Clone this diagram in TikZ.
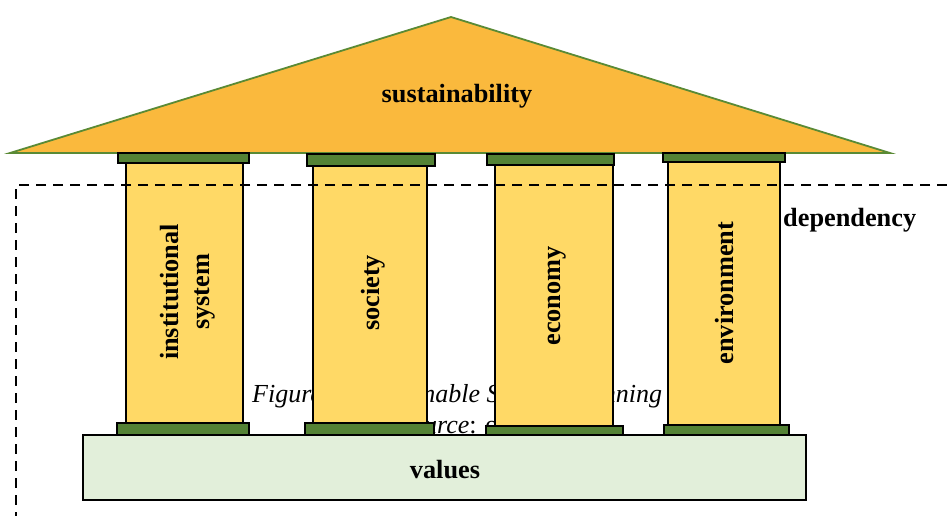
\documentclass[tikz,border=0pt]{standalone}
\usepackage{fontspec}
\setmainfont{Liberation Serif}
\definecolor{roofc}{HTML}{FAB93D}
\definecolor{roofline}{HTML}{5A8A35}
\definecolor{capc}{HTML}{548235}
\definecolor{shaftc}{HTML}{FFD966}
\definecolor{basec}{HTML}{E2EFDA}
\tikzset{
  roofstyle/.style={fill=roofc, draw=roofline, line width=1.8pt},
  shaftstyle/.style={fill=shaftc, draw=black, line width=2.4pt},
  capstyle/.style={fill=capc, draw=black, line width=2.4pt},
  basestyle/.style={fill=basec, draw=black, line width=2.4pt},
  lbl/.style={font=\fontsize{26.3}{31}\selectfont\bfseries, inner sep=0pt},
  vlbl/.style={lbl, rotate=90, align=center},
  captext/.style={font=\fontsize{26}{31}\selectfont, inner sep=0pt},
  depline/.style={draw=black, line width=2.4pt, dash pattern=on 10pt off 7pt}
}
\begin{document}
\begin{tikzpicture}[x=1pt,y=-1pt]
\useasboundingbox (0,0) rectangle (947,516);
% roof
\coordinate (apex) at (451,17);
\coordinate (rl) at (10,153);
\coordinate (rr) at (890,153);
\draw[roofstyle] (rl) -- (apex) -- (rr) -- cycle;
\node[lbl] (sus) at (457,96) {sustainability};
% hidden caption
\node[captext, anchor=base west] (fig) at (252,402) {\itshape Figure 1: Sustainable Spatial Planning};
\node[captext, anchor=base west] (src) at (398,433) {\textit{Source}: own};
% pillar 1
\draw[shaftstyle] (126,162) rectangle (243,424);
\draw[capstyle] (118,153) rectangle (249,163);
\draw[capstyle] (117,423) rectangle (249,435);
% pillar 2
\draw[shaftstyle] (313,164) rectangle (427,424);
\draw[capstyle] (307,154) rectangle (435,166);
\draw[capstyle] (305,423) rectangle (434,435);
% pillar 3
\draw[shaftstyle] (495,163) rectangle (613,426);
\draw[capstyle] (487,154) rectangle (614,165);
\draw[capstyle] (486,426) rectangle (623,435);
% pillar 4
\draw[shaftstyle] (668,160) rectangle (780,426);
\draw[capstyle] (663,153) rectangle (785,162);
\draw[capstyle] (664,425) rectangle (789,435);
% base
\draw[basestyle] (83,435) rectangle (806,500);
\node[lbl] (val) at (445,470) {values};
% pillar labels
\node[vlbl] (inst) at (188,292) {institutional\\system};
\node[vlbl] (soc) at (373,293) {society};
\node[vlbl] (eco) at (557,296) {economy};
\node[vlbl] (env) at (724,293) {environment};
% dependency
\coordinate (dtl) at (16,185);
\coordinate (dtr) at (947,185);
\coordinate (dbl) at (16,516);
\draw[depline] (dtr) -- (dtl) -- (dbl);
\node[lbl, anchor=west] (dep) at (783,220) {dependency};
\end{tikzpicture}
\end{document}
